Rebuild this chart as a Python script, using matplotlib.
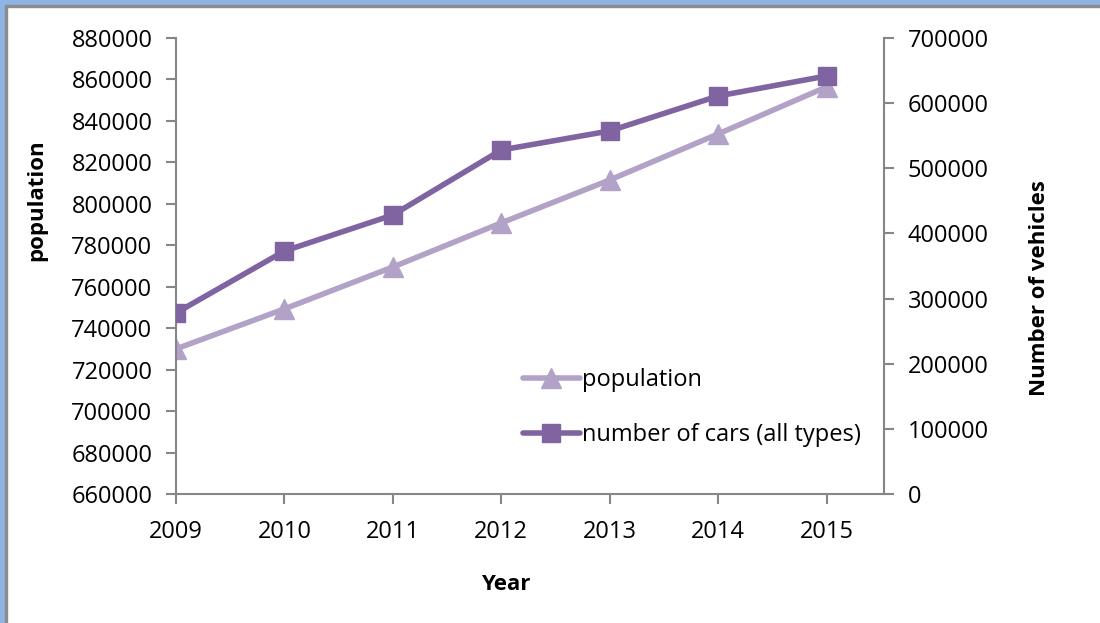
import matplotlib
matplotlib.use("Agg")
import matplotlib.pyplot as plt
from matplotlib.patches import Rectangle

plt.rcParams['font.family'] = ['Open Sans', 'DejaVu Sans']

# data
years = [2009, 2010, 2011, 2012, 2013, 2014, 2015]
population = [730000, 749300, 769500, 790800, 811500, 833700, 856400]
cars = [277900, 373000, 428300, 528100, 557300, 611000, 641700]

left_ticks = list(range(660000, 880001, 20000))
right_ticks = list(range(0, 700001, 100000))

pop_color = "#B3A2C7"
car_color = "#8064A2"
axis_color = "#868686"

fig = plt.figure(figsize=(11, 6.23), dpi=100)
W, H = 1100, 623
ax = fig.add_axes([176 / W, 1 - 494 / H, (884 - 176) / W, (494 - 38) / H])
ax2 = ax.twinx()

l1, = ax.plot(years, population, color=pop_color, lw=4, marker="^", ms=15,
              solid_capstyle="round", label="population")
l2, = ax2.plot(years, cars, color=car_color, lw=4, marker="s", ms=13,
               solid_capstyle="round", label="number of cars (all types)")

ax.set_xlim(2009, 2015.53)
ax.set_ylim(660000, 880000)
ax2.set_ylim(0, 700000)
ax.set_xticks(years)
ax.set_yticks(left_ticks)
ax2.set_yticks(right_ticks)

for a in (ax, ax2):
    for s in a.spines.values():
        s.set_visible(False)
    a.tick_params(colors=axis_color, labelcolor="black", labelsize=17,
                  length=7, width=1.5, direction="out")
ax.spines["left"].set_visible(True)
ax.spines["bottom"].set_visible(True)
ax2.spines["right"].set_visible(True)
for s in (ax.spines["left"], ax.spines["bottom"], ax2.spines["right"]):
    s.set_color(axis_color)
    s.set_linewidth(1.5)
ax.tick_params(axis="x", pad=12)
ax.tick_params(axis="y", pad=10)
ax2.tick_params(axis="y", pad=10)

ax.set_xlabel("Year", fontsize=16, fontweight="bold")
ax.set_ylabel("population", fontsize=16, fontweight="bold")
ax2.set_ylabel("Number of vehicles", fontsize=16, fontweight="bold")
ax.xaxis.set_label_coords(0.466, -0.175)
ax.yaxis.set_label_coords(-0.182, 0.645)
ax2.yaxis.set_label_coords(1.205, 0.452)

ax.legend(handles=[l1, l2], loc="upper left", bbox_to_anchor=(0.46, 0.322),
          frameon=False, fontsize=17, handlelength=2.4, handletextpad=0.1,
          labelspacing=1.3)

# light blue frame on the top and left edges
fig.patches.append(Rectangle((0, 1 - 5 / H), 1, 5 / H, transform=fig.transFigure,
                             color="#8DB4E2", zorder=10))
fig.patches.append(Rectangle((0, 1 - 7 / H), 1, 2 / H, transform=fig.transFigure,
                             color="#8C8C8C", zorder=10))
fig.patches.append(Rectangle((0, 0), 5 / W, 1, transform=fig.transFigure,
                             color="#8DB4E2", zorder=10))
fig.patches.append(Rectangle((5 / W, 0), 2 / W, 1 - 5 / H, transform=fig.transFigure,
                             color="#8C8C8C", zorder=10))

fig.savefig("out.png", dpi=100)
